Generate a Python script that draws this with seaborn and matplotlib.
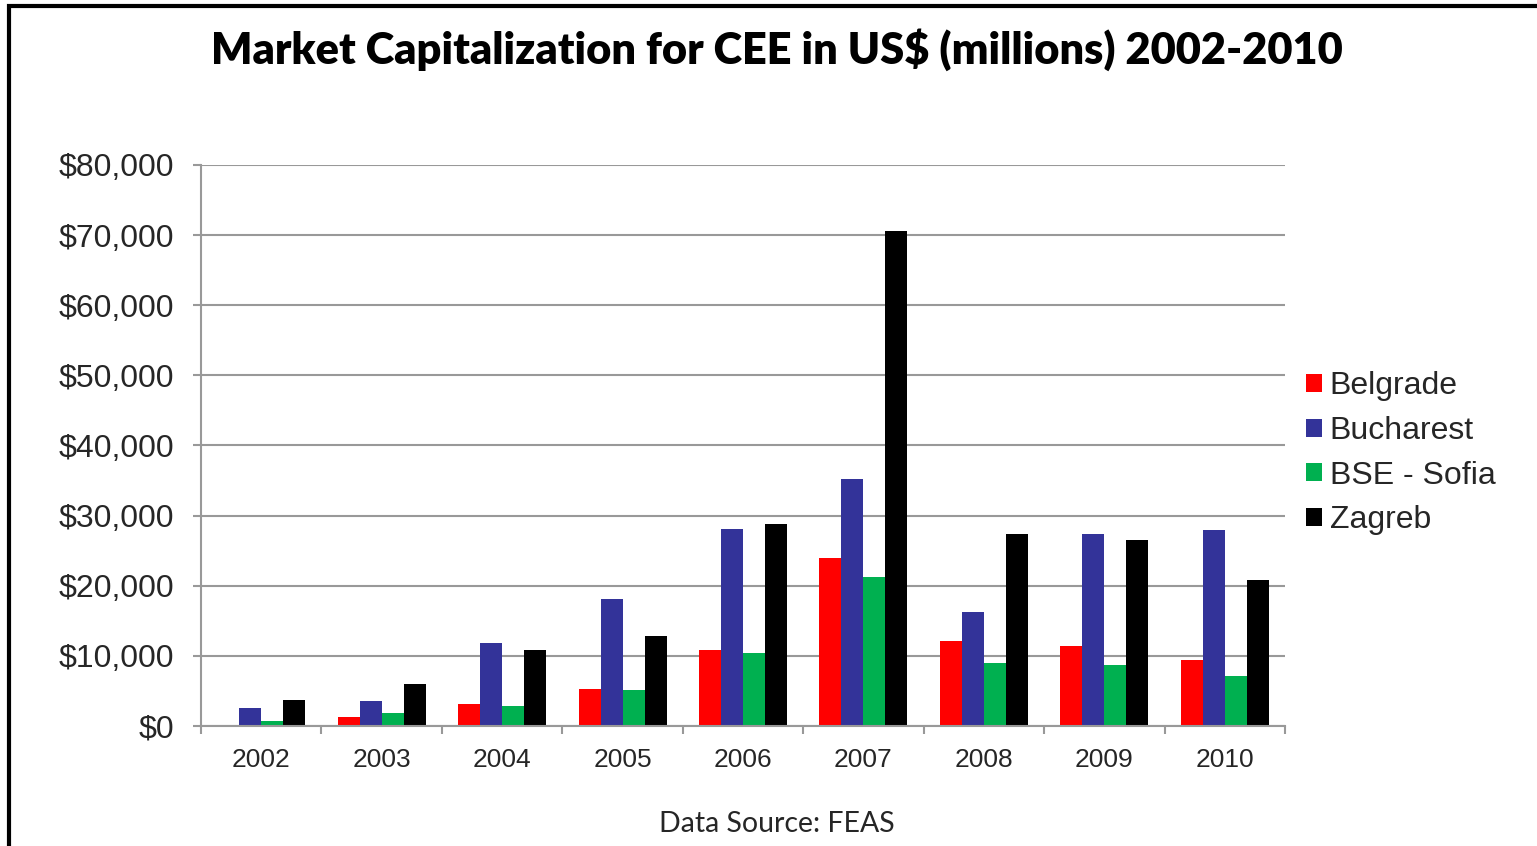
###
#   IMPORT
###
import matplotlib
matplotlib.use('Agg')
import matplotlib.pyplot as plt
import matplotlib.ticker as mticker
from matplotlib.patches import Rectangle
import pandas as pd
import seaborn as sns

###
#   DATA (US$ millions)
###
years = ['2002', '2003', '2004', '2005', '2006', '2007', '2008', '2009', '2010']
belgrade = [0, 1300, 3200, 5300, 10800, 24000, 12100, 11400, 9400]
bucharest = [2600, 3600, 11800, 18100, 28100, 35200, 16300, 27400, 27900]
sofia = [700, 1800, 2850, 5100, 10400, 21200, 9000, 8700, 7100]
zagreb = [3700, 6000, 10800, 12800, 28800, 70600, 27400, 26500, 20800]

exchanges = ['Belgrade', 'Bucharest', 'BSE - Sofia', 'Zagreb']
colors = ['#FF0000', '#333399', '#00B050', '#000000']

rows = []
for name, vals in zip(exchanges, [belgrade, bucharest, sofia, zagreb]):
    for y, v in zip(years, vals):
        rows.append({'year': y, 'exchange': name, 'value': v})
df = pd.DataFrame(rows)

###
#   FIGURE
###
sns.set_style('white')
plt.rcParams['font.family'] = ['Liberation Sans', 'DejaVu Sans']

fig = plt.figure(figsize=(15.37, 8.46), dpi=100)
ax = fig.add_axes([201 / 1537, 1 - 726 / 846, 1084 / 1537, 561 / 846])

sns.barplot(data=df, x='year', y='value', hue='exchange', order=years,
            hue_order=exchanges, palette=colors, width=0.73, gap=0,
            linewidth=0, saturation=1, ax=ax)

ax.set_ylim(0, 80000)
ax.set_xlim(-0.5, len(years) - 0.5)
ax.yaxis.set_major_locator(mticker.MultipleLocator(10000))
ax.yaxis.set_major_formatter(mticker.StrMethodFormatter('${x:,.0f}'))
ax.grid(axis='y', color='#999999', linewidth=1.5)
ax.set_axisbelow(True)
ax.set_xlabel('')
ax.set_ylabel('')

for side in ['top', 'right']:
    ax.spines[side].set_visible(False)
for side in ['left', 'bottom']:
    ax.spines[side].set_color('#999999')
    ax.spines[side].set_linewidth(1.5)

ax.tick_params(axis='y', which='major', left=True, length=6, width=1.5,
               color='#999999', pad=13, labelsize=23)
ax.tick_params(axis='x', which='major', bottom=False, length=0, pad=16,
               labelsize=19)
ax.set_xticks([i - 0.5 for i in range(len(years) + 1)], minor=True)
ax.tick_params(axis='x', which='minor', bottom=True, length=6, width=1.5,
               color='#999999')

leg = ax.legend(loc='center left', bbox_to_anchor=(1.0, 0.486), frameon=False,
                fontsize=23, handlelength=0.5, handleheight=0.5,
                handletextpad=0.25, labelspacing=0.46, borderaxespad=0.25)

###
#   TEXT
###
fig.text(777 / 1537, 1 - 50 / 846,
         'Market Capitalization for CEE in US$ (millions) 2002-2010',
         ha='center', va='center', fontsize=31.2, fontweight='heavy',
         color='black', family=['Lato', 'DejaVu Sans'])
fig.text(777 / 1537, 1 - 824 / 846, 'Data Source: FEAS', ha='center',
         va='center', fontsize=20.5, family=['Lato', 'DejaVu Sans'])

# outer frame (only left and top edges fall inside the image)
fig.patches.append(Rectangle((9 / 1537, -0.1), 1.2, 1.1 - 6 / 846,
                             transform=fig.transFigure, fill=False,
                             edgecolor='black', linewidth=3))

plt.savefig('out.png', dpi=100)
